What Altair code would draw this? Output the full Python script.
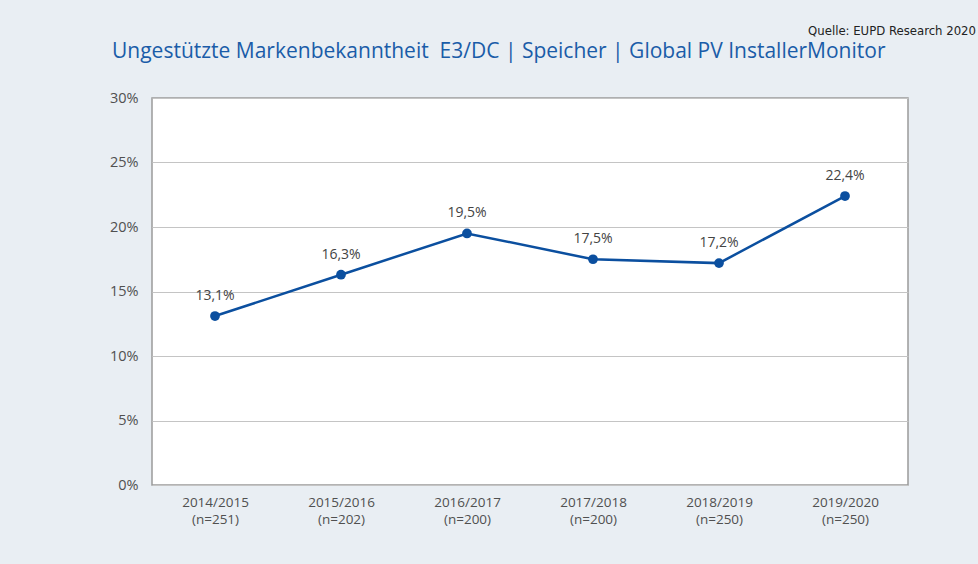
import altair as alt
import pandas as pd

years = ["2014/2015", "2015/2016", "2016/2017", "2017/2018", "2018/2019", "2019/2020"]
samples = ["(n=251)", "(n=202)", "(n=200)", "(n=200)", "(n=250)", "(n=250)"]
values = [13.1, 16.3, 19.5, 17.5, 17.2, 22.4]
y_ticks = [0, 5, 10, 15, 20, 25, 30]
title_text = "Ungestützte Markenbekanntheit\u00a0 E3/DC | Speicher | Global PV InstallerMonitor"
source_text = "Quelle: EUPD Research 2020"

cats = [f"{y} {s}" for y, s in zip(years, samples)]
df = pd.DataFrame({
    "cat": cats,
    "value": values,
    "label": [f"{v:.1f}%".replace(".", ",") for v in values],
})

FONT = "Open Sans"
BLUE = "#0b4f9f"

x = alt.X("cat:N", sort=cats, title=None,
          scale=alt.Scale(type="point", padding=0.5),
          axis=alt.Axis(labelExpr="split(datum.value, ' ')", labelAngle=0,
                        labelFont=FONT, labelFontSize=13.5, labelColor="#505050",
                        labelPadding=10, labelLineHeight=17, ticks=False, domain=False,
                        grid=False))
y = alt.Y("value:Q", title=None,
          scale=alt.Scale(domain=[0, 30], nice=False),
          axis=alt.Axis(values=y_ticks, labelExpr="datum.value + '%'",
                        labelFont=FONT, labelFontSize=14.5, labelColor="#505050",
                        labelPadding=14, ticks=False, domain=False,
                        gridColor="#c4c4c4", gridWidth=1))

base = alt.Chart(df)
line = base.mark_line(color=BLUE, strokeWidth=2.5).encode(x=x, y=y)
pts = base.mark_point(filled=True, color=BLUE, size=95, opacity=1).encode(x=x, y=y)
lbl = base.mark_text(dy=-20, font=FONT, fontSize=14, color="#444444").encode(
    x=x, y=y, text="label:N")

src = alt.Chart(pd.DataFrame({"t": [source_text]})).mark_text(
    align="right", baseline="alphabetic", font="DejaVu Sans Condensed", fontSize=13,
    color="#222222").encode(x=alt.value(824), y=alt.value(-63), text="t:N")

ttl = alt.Chart(pd.DataFrame({"t": [title_text]})).mark_text(
    align="left", baseline="alphabetic", font=FONT, fontSize=21,
    color="#1a5ca8").encode(x=alt.value(-40), y=alt.value(-40), text="t:N")

chart = alt.layer(line, pts, lbl, src, ttl).properties(
    width=756, height=387,
    autosize=alt.AutoSizeParams(type="none"),
    padding={"left": 152, "top": 98, "right": 70, "bottom": 79},
).configure(background="#e9eef3").configure_view(
    fill="white", stroke="#9a9a9a", strokeWidth=1.5)

chart.save("out.html", embed_options={"renderer": "svg", "actions": False})
